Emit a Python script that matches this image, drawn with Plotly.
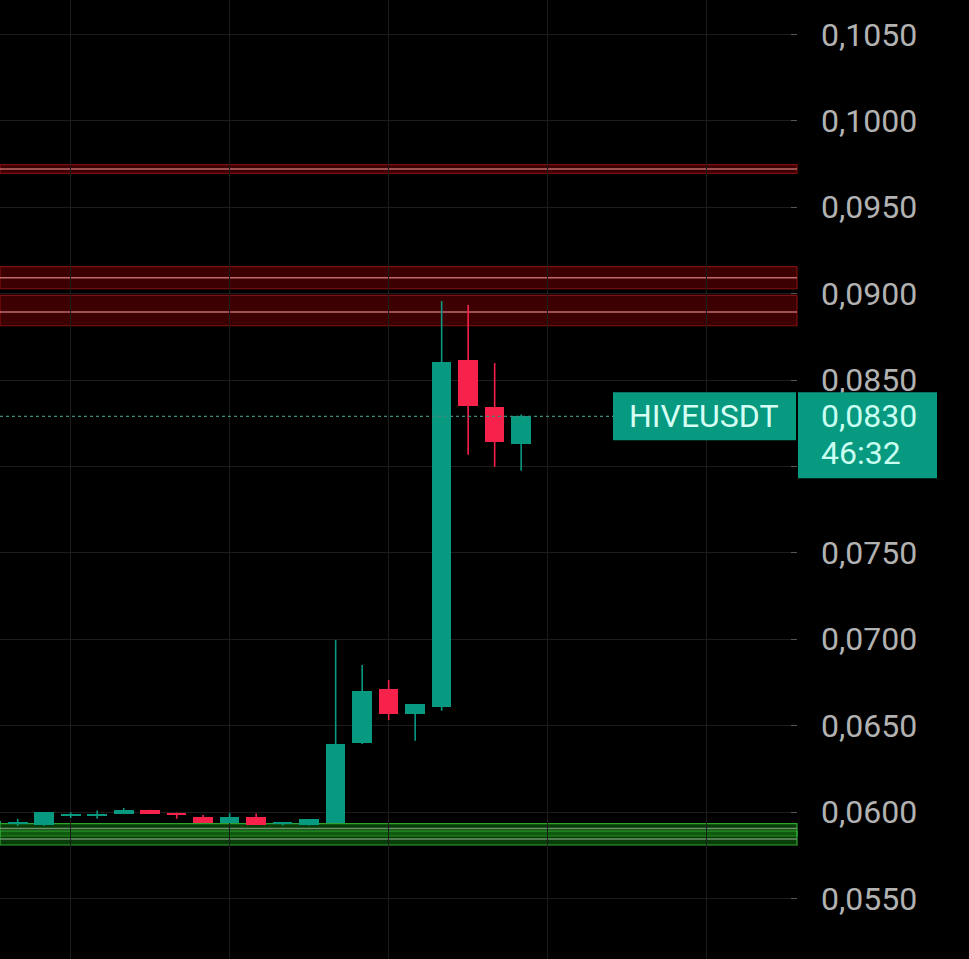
import plotly.graph_objects as go

# candles, index 0 = first full candle on the left
idx = list(range(-1, 20))
open_ = [0.05940, 0.05932, 0.05927, 0.05982, 0.05982, 0.05990, 0.06012, 0.05989, 0.05971, 0.05938,
         0.05971, 0.05931, 0.05927, 0.05938, 0.06399, 0.06712, 0.06569, 0.06608, 0.08616, 0.08344, 0.08131]
high = [0.05943, 0.05960, 0.06000, 0.05998, 0.06008, 0.06023, 0.06013, 0.05996, 0.05983, 0.05994,
        0.05992, 0.05934, 0.05959, 0.06995, 0.06851, 0.06764, 0.06625, 0.08957, 0.08934, 0.08598, 0.08301]
low = [0.05936, 0.05920, 0.05921, 0.05965, 0.05961, 0.05988, 0.05990, 0.05961, 0.05937, 0.05937,
       0.05927, 0.05922, 0.05922, 0.05935, 0.06394, 0.06532, 0.06412, 0.06586, 0.08068, 0.07998, 0.07975]
close = [0.05941, 0.05937, 0.06000, 0.05986, 0.05986, 0.06012, 0.05990, 0.05985, 0.05938, 0.05971,
         0.05927, 0.05934, 0.05959, 0.06394, 0.06700, 0.06569, 0.06625, 0.08605, 0.08351, 0.08143, 0.08290]

# support / resistance zones: (top, middle, bottom)
red_zones = [(0.09746, 0.09721, 0.09696), (0.09156, 0.09092, 0.09028), (0.08990, 0.08894, 0.08814)]
green_zones = [(0.05933, 0.05905, 0.05861), (0.05890, 0.05844, 0.05809)]

price_ticks = [0.055, 0.060, 0.065, 0.070, 0.075, 0.080, 0.085, 0.090, 0.095, 0.100, 0.105]
hidden_tick = 0.080  # sits under the price box
symbol = "HIVEUSDT"
last_price_text = "0,0830"
countdown = "46:32"

GREEN = "#089981"
RED = "#f7224b"

fig = go.Figure()

# bodies + wicks
for up, col in [(True, GREEN), (False, RED)]:
    xs, hs, bs = [], [], []
    wx, wy = [], []
    for i, o, h, l, c in zip(idx, open_, high, low, close):
        if (c >= o) == up:
            xs.append(i)
            hs.append(max(abs(c - o), 0.00008))
            bs.append(min(o, c))
            wx += [i, i, None]
            wy += [l, h, None]
    fig.add_trace(go.Scatter(x=wx, y=wy, mode="lines", line=dict(color=col, width=1.6),
                             hoverinfo="skip", showlegend=False))
    fig.add_trace(go.Bar(x=xs, y=hs, base=bs, width=0.74, marker=dict(color=col, line=dict(width=0)),
                         showlegend=False))

shapes = []
for top, mid, bot in red_zones:
    shapes.append(dict(type="rect", xref="paper", x0=0, x1=1, yref="y", y0=bot, y1=top,
                       fillcolor="rgba(110,0,5,0.55)", line=dict(color="rgba(150,20,20,0.8)", width=1.2),
                       layer="below"))
    shapes.append(dict(type="line", xref="paper", x0=0, x1=1, yref="y", y0=mid, y1=mid,
                       line=dict(color="#c06a6a", width=1.5), layer="below"))
for top, mid, bot in green_zones:
    shapes.append(dict(type="rect", xref="paper", x0=0, x1=1, yref="y", y0=bot, y1=top,
                       fillcolor="rgba(20,120,20,0.5)", line=dict(color="rgba(50,180,50,0.9)", width=1.2),
                       layer="below"))
    shapes.append(dict(type="line", xref="paper", x0=0, x1=1, yref="y", y0=mid, y1=mid,
                       line=dict(color="#6a946a", width=1.5), layer="below"))

last = close[-1]
# last price dotted line
shapes.append(dict(type="line", xref="paper", x0=0, x1=1, yref="y", y0=last, y1=last,
                   line=dict(color="#3c8c7e", width=1.2, dash="dot")))
# symbol label box and price box
shapes.append(dict(type="rect", xref="paper", xsizemode="pixel", xanchor=1, x0=-184, x1=-1,
                   yref="y", ysizemode="pixel", yanchor=last, y0=-24, y1=24,
                   fillcolor=GREEN, line=dict(width=0)))
shapes.append(dict(type="rect", xref="paper", xsizemode="pixel", xanchor=1, x0=1, x1=140,
                   yref="y", ysizemode="pixel", yanchor=last, y0=-62, y1=24,
                   fillcolor=GREEN, line=dict(width=0)))

tick_text = ["" if abs(v - hidden_tick) < 1e-9 else f"{v:.4f}".replace(".", ",") for v in price_ticks]

fig.update_layout(
    width=969, height=959,
    margin=dict(l=0, r=172, t=0, b=0),
    paper_bgcolor="#000000", plot_bgcolor="#000000",
    shapes=shapes,
    bargap=0,
    font=dict(family="Roboto", size=32, color="#b2b2b2"),
    xaxis=dict(range=[-0.668, 29.41], showticklabels=False, tickmode="linear", tick0=2, dtick=6,
               showgrid=True, gridcolor="#1c1c1c", gridwidth=1.2, zeroline=False, showline=False,
               fixedrange=True),
    yaxis=dict(range=[0.051493, 0.106991], side="right", tickvals=price_ticks, ticktext=tick_text,
               showgrid=True, gridcolor="#1c1c1c", gridwidth=1.2, zeroline=False, showline=False,
               ticks="inside", ticklen=6, tickcolor="#555555", ticklabelstandoff=23,
               tickfont=dict(family="Roboto", size=32, color="#b2b2b2")),
    annotations=[
        dict(text=symbol, xref="paper", x=1, xanchor="right", xshift=-16, yref="y", y=last,
             yanchor="middle", showarrow=False, font=dict(family="Roboto", size=32, color="#d6fff4")),
        dict(text=last_price_text, xref="paper", x=1, xanchor="left", xshift=22, yref="y", y=last,
             yanchor="middle", showarrow=False, font=dict(family="Roboto", size=32, color="#c8fff0")),
        dict(text=countdown, xref="paper", x=1, xanchor="left", xshift=22, yref="y", y=last,
             yanchor="middle", yshift=-37, showarrow=False,
             font=dict(family="Roboto", size=32, color="#c8fff0")),
    ],
)

fig.write_html("out.html", config={"displayModeBar": False},
               post_script="document.body.style.margin='0';")
